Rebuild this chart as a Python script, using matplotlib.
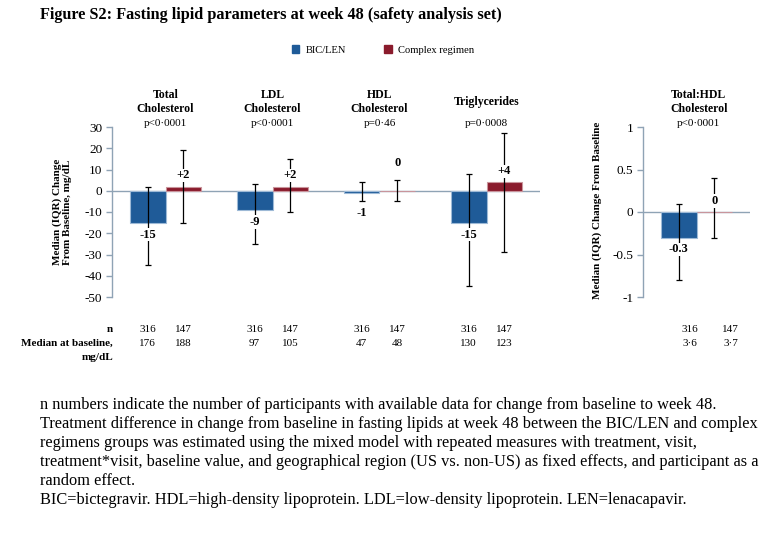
import matplotlib
matplotlib.use("Agg")
import matplotlib.pyplot as plt
import matplotlib.transforms as mtransforms
import numpy as np

plt.rcParams['font.family'] = ['Liberation Serif', 'DejaVu Serif']
plt.rcParams['axes.unicode_minus'] = False

#-- data
categories = ["Total\nCholesterol", "LDL\nCholesterol", "HDL\nCholesterol", "Triglycerides"]
p_values = ["p<0·0001", "p<0·0001", "p=0·46", "p=0·0008"]
bic_med = [-15, -9, -1, -15]
bic_q1 = [-35, -25, -5, -45]
bic_q3 = [2, 3, 4, 8]
cr_med = [2, 2, 0, 4]
cr_q1 = [-15, -10, -5, -29]
cr_q3 = [19, 15, 5, 27]

ratio_label = "Total:HDL\nCholesterol"
ratio_p = "p<0·0001"
ratio_bic = [-0.3]
ratio_bic_q1 = [-0.8]
ratio_bic_q3 = [0.1]
ratio_cr = [0]
ratio_cr_q1 = [-0.3]
ratio_cr_q3 = [0.4]

n_bic = [316, 316, 316, 316, 316]
n_cr = [147, 147, 147, 147, 147]
base_bic = ["176", "97", "47", "130", "3·6"]
base_cr = ["188", "105", "48", "123", "3·7"]

blue = "#1F5B98"
red = "#8A1B2C"
axcol = "#8FA3B5"

W, H = 774, 554
fig = plt.figure(figsize=(W / 100, H / 100), dpi=100)


def fx(px):
    return px / W


def fy(py):
    return 1 - py / H


ax1 = fig.add_axes([fx(112), fy(297), fx(540) - fx(112), fy(127) - fy(297)])
ax2 = fig.add_axes([fx(643), fy(297), fx(750) - fx(643), fy(127) - fy(297)])

bw = 0.333


def fmt(v):
    if v == 0:
        return "0"
    s = "%g" % v
    return "+" + s if v > 0 else s


def draw(ax, x, med, q1, q3, color, edge, thr):
    ax.bar(x, med, width=bw, color=color, edgecolor=edge, linewidth=0.8, zorder=2)
    med = np.array(med, float)
    yerr = [med - np.array(q1), np.array(q3) - med]
    ax.errorbar(x, med, yerr=yerr, fmt="none", ecolor="black", elinewidth=0.9,
                capsize=2.5, capthick=0.9, zorder=3)
    for xi, m, lo, hi in zip(x, med, q1, q3):
        # label sits past the bar end, or past the whisker when the whisker is short
        if m < 0:
            end, sign = m, -1
            if m - lo < thr:
                end = lo
        else:
            end, sign = m, 1
            if hi - m < thr:
                end = hi
        off = 12 if sign < 0 else (11 if end == m else 17)
        ax.annotate(fmt(m), (xi, end), xytext=(0, sign * off), textcoords="offset pixels",
                    ha="center", va="center", fontsize=9, fontweight="bold", zorder=4,
                    bbox=dict(boxstyle="square,pad=0.05", fc="white", ec="none"))


x = np.arange(len(categories))
draw(ax1, x - bw / 2, bic_med, bic_q1, bic_q3, blue, "#9DB9D6", 6)
draw(ax1, x + bw / 2, cr_med, cr_q1, cr_q3, red, "#C9959C", 6)
ax1.set_xlim(-0.5, 3.5)
ax1.set_ylim(-50, 30)
ax1.set_yticks(np.arange(-50, 31, 10))

x2 = np.array([0.0])
draw(ax2, x2 - bw / 2, ratio_bic, ratio_bic_q1, ratio_bic_q3, blue, "#9DB9D6", 0.15)
draw(ax2, x2 + bw / 2, ratio_cr, ratio_cr_q1, ratio_cr_q3, red, "#C9959C", 0.15)
ax2.set_xlim(-0.5, 0.5)
ax2.set_ylim(-1, 1)
ax2.set_yticks([-1, -0.5, 0, 0.5, 1])
ax2.set_yticklabels(["-1", "-0.5", "0", "0.5", "1"])

for ax in (ax1, ax2):
    for s in ("top", "right", "bottom"):
        ax.spines[s].set_visible(False)
    ax.spines["left"].set_color(axcol)
    ax.spines["left"].set_linewidth(1.0)
    ax.axhline(0, color=axcol, lw=1.0, zorder=1)
    ax.set_xticks([])
    ax.tick_params(axis="y", direction="out", length=4, width=1, color=axcol,
                   labelsize=9.5, pad=3)
    ax.patch.set_alpha(0)

tr1 = mtransforms.blended_transform_factory(ax1.transData, fig.transFigure)
tr2 = mtransforms.blended_transform_factory(ax2.transData, fig.transFigure)

#-- headers and p values
for xi, c, p in zip(x, categories, p_values):
    ax1.text(xi, fy(102), c, transform=tr1, ha="center", va="center", fontsize=8.5,
             fontweight="bold", linespacing=1.25)
    ax1.text(xi, fy(124), p, transform=tr1, ha="center", va="center", fontsize=8)
ax2.text(0.02, fy(102), ratio_label, transform=tr2, ha="center", va="center",
         fontsize=8.5, fontweight="bold", linespacing=1.25)
ax2.text(0.02, fy(124), ratio_p, transform=tr2, ha="center", va="center", fontsize=8)

fig.text(fx(62), fy(212), "Median (IQR) Change\nFrom Baseline, mg/dL", rotation=90,
         ha="center", va="center", fontsize=8, fontweight="bold", linespacing=1.2)
fig.text(fx(597), fy(210), "Median (IQR) Change From Baseline", rotation=90,
         ha="center", va="center", fontsize=8, fontweight="bold")

#-- n / baseline table
fig.text(fx(113), fy(330), "n", ha="right", va="center", fontsize=8, fontweight="bold")
fig.text(fx(113), fy(343), "Median at baseline,", ha="right", va="center", fontsize=8,
         fontweight="bold")
fig.text(fx(113), fy(357), "mg/dL", ha="right", va="center", fontsize=8, fontweight="bold")
for i in range(4):
    for dx, nv, bv in ((-bw / 2, n_bic[i], base_bic[i]), (bw / 2, n_cr[i], base_cr[i])):
        ax1.text(x[i] + dx, fy(330), str(nv), transform=tr1, ha="center", va="center", fontsize=8)
        ax1.text(x[i] + dx, fy(343), bv, transform=tr1, ha="center", va="center", fontsize=8)
for dx, nv, bv in ((-0.06, n_bic[4], base_bic[4]), (0.32, n_cr[4], base_cr[4])):
    ax2.text(dx, fy(330), str(nv), transform=tr2, ha="center", va="center", fontsize=8)
    ax2.text(dx, fy(343), bv, transform=tr2, ha="center", va="center", fontsize=8)

#-- legend
h1 = plt.Rectangle((0, 0), 1, 1, color=blue)
h2 = plt.Rectangle((0, 0), 1, 1, color=red)
fig.legend([h1, h2], ["BIC/LEN", "Complex regimen"], loc="center", ncol=2,
           bbox_to_anchor=(fx(383), fy(50)), frameon=False, fontsize=7.6,
           handlelength=0.75, handleheight=0.75, handletextpad=0.6, columnspacing=3.6)

fig.text(fx(40), fy(15), "Figure S2: Fasting lipid parameters at week 48 (safety analysis set)",
         ha="left", va="center", fontsize=11.7, fontweight="bold")

notes = [
    "n numbers indicate the number of participants with available data for change from baseline to week 48.",
    "Treatment difference in change from baseline in fasting lipids at week 48 between the BIC/LEN and complex",
    "regimens groups was estimated using the mixed model with repeated measures with treatment, visit,",
    "treatment*visit, baseline value, and geographical region (US vs. non-US) as fixed effects, and participant as a",
    "random effect.",
    "BIC=bictegravir. HDL=high-density lipoprotein. LDL=low-density lipoprotein. LEN=lenacapavir.",
]
for i, line in enumerate(notes):
    fig.text(fx(40), fy(405 + i * 19), line, ha="left", va="center", fontsize=11.8)

fig.savefig("out.png", dpi=100)
